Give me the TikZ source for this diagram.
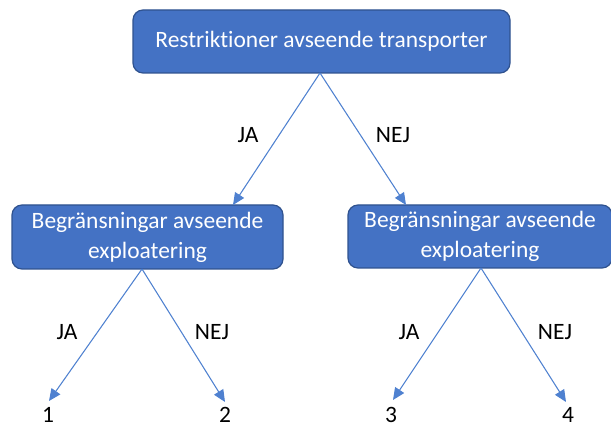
\documentclass[tikz,border=0pt]{standalone}
\usepackage{fontspec}
\setmainfont{Carlito}[Ligatures={NoCommon}]
\usetikzlibrary{arrows.meta}
\definecolor{boxfill}{HTML}{4472C4}
\definecolor{boxline}{HTML}{2F528F}
\definecolor{arrcol}{HTML}{4F81D0}
\tikzset{
  box/.style={draw=boxline, line width=0.9pt, fill=boxfill, rounded corners=7.5pt,
    text=white, align=center, inner sep=0pt, font=\fontsize{17.6}{22.5}\selectfont},
  lbl/.style={inner sep=0pt, text=black, font=\fontsize{17.6}{20}\selectfont},
  arr/.style={draw=arrcol, line width=0.8pt, -{Triangle[length=9pt,width=8pt]}}
}
\begin{document}
\begin{tikzpicture}[x=0.75pt,y=-0.75pt]
\useasboundingbox (0,0) rectangle (611,427);
\node[box, minimum width=282.75pt, minimum height=47.25pt] (top) at (321.5,41.5) {Restriktioner avseende transporter};
\node[box, minimum width=203.25pt, minimum height=48pt] (left) at (147.5,237) {Begränsningar avseende\\exploatering};
\node[box, minimum width=198pt, minimum height=47.25pt] (right) at (480,236.5) {Begränsningar avseende\\exploatering};

\coordinate (ts) at (320,73);
\coordinate (lt) at (233,205);
\coordinate (rt) at (406,205);
\coordinate (ls) at (142,269);
\coordinate (rs) at (481,268);
\coordinate (e1) at (49,401);
\coordinate (e2) at (225,402);
\coordinate (e3) at (393,400);
\coordinate (e4) at (566,402);

\draw[arr] (ts) -- (lt);
\draw[arr] (ts) -- (rt);
\draw[arr] (ls) -- (e1);
\draw[arr] (ls) -- (e2);
\draw[arr] (rs) -- (e3);
\draw[arr] (rs) -- (e4);

\node[lbl] (ja1) at (248,135) {JA};
\node[lbl] (nej1) at (393,135) {NEJ};
\node[lbl] (ja2) at (67,332) {JA};
\node[lbl] (nej2) at (212,332) {NEJ};
\node[lbl] (ja3) at (409,332) {JA};
\node[lbl] (nej3) at (555,332) {NEJ};

\node[lbl] (n1) at (48,415) {1};
\node[lbl] (n2) at (225,415) {2};
\node[lbl] (n3) at (391,415) {3};
\node[lbl] (n4) at (568,415) {4};
\end{tikzpicture}
\end{document}
